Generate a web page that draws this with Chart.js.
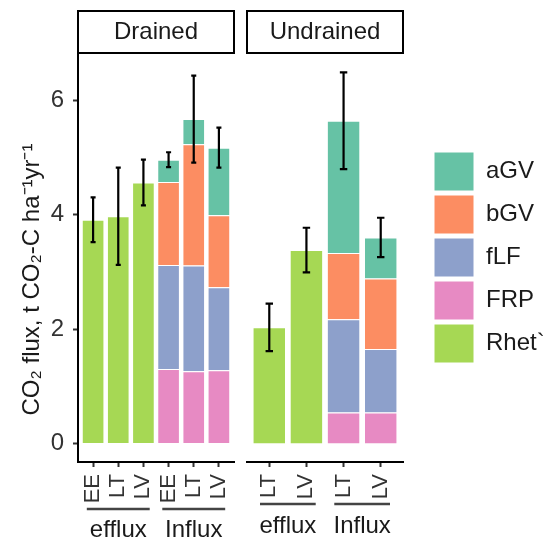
<!DOCTYPE html>
<html lang="en">
<head>
<meta charset="UTF-8">
<title>CO2 flux</title>
<script src="https://cdn.jsdelivr.net/npm/chart.js@4.4.0/dist/chart.umd.min.js"></script>
<style>
  body { margin: 0; background: #fff; }
  .panel { position: absolute; top: 0; height: 539px; }
  #p1 { left: 0; width: 236px; }
  #p2 { left: 236px; width: 311px; }
</style>
</head>
<body>
<div class="panel" id="p1"><canvas id="drained"></canvas></div>
<div class="panel" id="p2"><canvas id="undrained"></canvas></div>
<script>
const yTitle = 'CO₂ flux, t CO₂-C ha⁻¹yr⁻¹';
const yTicks = [0, 2, 4, 6];
const legendOrder = ['aGV', 'bGV', 'fLF', 'FRP', 'Rhet`'];

// Drained panel
const drainedLabels = ['EE', 'LT', 'LV', 'EE', 'LT', 'LV'];
const drainedGroups = ['efflux', 'efflux', 'efflux', 'Influx', 'Influx', 'Influx'];
const drainedRhet = [3.91, 3.97, 4.56, null, null, null];
const drainedFRP = [null, null, null, 1.30, 1.26, 1.28];
const drainedFLF = [null, null, null, 1.82, 1.85, 1.45];
const drainedBGV = [null, null, null, 1.45, 2.12, 1.26];
const drainedAGV = [null, null, null, 0.39, 0.44, 1.18];
const drainedSE = [0.39, 0.85, 0.40, 0.13, 0.76, 0.35];

// Undrained panel
const undrainedLabels = ['LT', 'LV', 'LT', 'LV'];
const undrainedGroups = ['efflux', 'efflux', 'Influx', 'Influx'];
const undrainedRhet = [2.03, 3.38, null, null];
const undrainedFRP = [null, null, 0.54, 0.54];
const undrainedFLF = [null, null, 1.63, 1.11];
const undrainedBGV = [null, null, 1.16, 1.235];
const undrainedAGV = [null, null, 2.31, 0.715];
const undrainedSE = [0.415, 0.39, 0.845, 0.345];

Chart.defaults.font.family = '"Liberation Sans", Arial, sans-serif';
Chart.defaults.color = '#1a1a1a';

const FONT = '"Liberation Sans", Arial, sans-serif';

// strip, nested x labels, error bars, y title
const panelDecor = {
  id: 'panelDecor',
  afterDatasetsDraw(chart, args, o) {
    const ctx = chart.ctx, xs = chart.scales.x, ys = chart.scales.y;
    const n = o.labels.length;
    ctx.save();
    ctx.strokeStyle = '#000';
    ctx.lineWidth = 2.2;
    for (let i = 0; i < n; i++) {
      let total = 0;
      chart.data.datasets.forEach(ds => {
        const v = ds.data[i].y;
        if (v != null) total += v;
      });
      const x = xs.getPixelForValue(i);
      const half = xs.getPixelForValue(i + 0.1) - x;
      const top = ys.getPixelForValue(total + o.se[i]);
      const bot = ys.getPixelForValue(total - o.se[i]);
      ctx.beginPath();
      ctx.moveTo(x, top); ctx.lineTo(x, bot);
      ctx.moveTo(x - half, top); ctx.lineTo(x + half, top);
      ctx.moveTo(x - half, bot); ctx.lineTo(x + half, bot);
      ctx.stroke();
    }
    ctx.restore();
  },
  afterDraw(chart, args, o) {
    const ctx = chart.ctx, a = chart.chartArea, xs = chart.scales.x;
    ctx.save();
    // strip
    ctx.strokeStyle = '#000';
    ctx.lineWidth = 2;
    ctx.strokeRect(a.left, 11, a.right - a.left, 42);
    ctx.fillStyle = '#1a1a1a';
    ctx.font = '24px ' + FONT;
    ctx.textAlign = 'center';
    ctx.textBaseline = 'middle';
    ctx.fillText(o.strip, (a.left + a.right) / 2, 32);

    // nested group labels
    const groups = [];
    o.groups.forEach((g, i) => {
      const last = groups[groups.length - 1];
      if (last && last.name === g) last.end = i;
      else groups.push({name: g, start: i, end: i});
    });
    ctx.textBaseline = 'alphabetic';
    groups.forEach(g => {
      const x1 = xs.getPixelForValue(g.start - 0.25);
      const x2 = xs.getPixelForValue(g.end + 0.25);
      ctx.strokeStyle = '#444';
      ctx.lineWidth = 2.5;
      ctx.beginPath();
      ctx.moveTo(x1, a.bottom + o.lineOffset);
      ctx.lineTo(x2, a.bottom + o.lineOffset);
      ctx.stroke();
      ctx.fillStyle = '#1a1a1a';
      ctx.fillText(g.name, (x1 + x2) / 2, a.bottom + o.textOffset);
    });

    // y axis title
    if (o.yTitle) {
      ctx.translate(32, (a.top + a.bottom) / 2 + 22);
      ctx.rotate(-Math.PI / 2);
      ctx.textBaseline = 'middle';
      ctx.fillText(o.yTitle, 0, 0);
    }
    ctx.restore();
  }
};

function toPoints(arr) {
  return arr.map((v, i) => ({x: i, y: v}));
}

function makeChart(id, strip, labels, groups, rhet, frp, flf, bgv, agv, se, first) {
  const datasets = [
    {label: 'FRP', data: toPoints(frp), backgroundColor: '#E78AC3'},
    {label: 'fLF', data: toPoints(flf), backgroundColor: '#8DA0CB'},
    {label: 'bGV', data: toPoints(bgv), backgroundColor: '#FC8D62'},
    {label: 'aGV', data: toPoints(agv), backgroundColor: '#66C2A5'},
    {label: 'Rhet`', data: toPoints(rhet), backgroundColor: '#A6D854'}
  ];
  datasets.forEach(d => {
    d.borderColor = '#fff';
    d.borderWidth = 1;
    d.categoryPercentage = 0.9;
    d.barPercentage = 1;
  });

  const scales = {
    x: {
      type: 'linear',
      offset: false,
      stacked: true,
      min: -0.6,
      max: labels.length - 0.4,
      afterBuildTicks: s => { s.ticks = labels.map((l, i) => ({value: i})); },
      afterFit: s => { s.height = 77; s.paddingLeft = 0; s.paddingRight = 0; },
      grid: {display: true, offset: false, drawOnChartArea: false, drawTicks: true, tickLength: 5, tickWidth: 2, tickColor: '#333'},
      border: {display: true, color: '#000', width: 2},
      ticks: {
        autoSkip: false, minRotation: 90, maxRotation: 90, padding: 7,
        color: '#333', font: {size: 22},
        callback: v => labels[v]
      }
    },
    y: {
      display: first,
      stacked: true,
      min: -0.325,
      max: 6.825,
      afterBuildTicks: s => { s.ticks = yTicks.map(v => ({value: v})); },
      afterFit: s => {
        if (first) s.width = 78;
        s.paddingTop = 0; s.paddingBottom = 0;
      },
      grid: {display: true, drawOnChartArea: false, drawTicks: true, tickLength: 5, tickWidth: 2, tickColor: '#333'},
      border: {display: true, color: '#000', width: 2},
      ticks: {color: '#333', font: {size: 24}, padding: 9}
    }
  };
  if (!first) {
    scales.gap = {
      type: 'linear', position: 'right', display: true,
      grid: {display: false}, border: {display: false}, ticks: {display: false},
      afterFit: s => { s.width = 27; s.paddingTop = 0; s.paddingBottom = 0; }
    };
  }

  return new Chart(document.getElementById(id), {
    type: 'bar',
    data: {datasets},
    plugins: [panelDecor],
    options: {
      responsive: true,
      maintainAspectRatio: false,
      animation: false,
      events: [],
      layout: {padding: first ? {top: 53, right: 2, left: 0, bottom: 0} : {top: 53, right: 0, left: 11, bottom: 0}},
      scales,
      plugins: {
        tooltip: {enabled: false},
        legend: {
          display: !first,
          position: 'right',
          fullSize: false,
          maxWidth: 117,
          labels: {
            boxWidth: 40, boxHeight: 39, padding: 4, color: '#1a1a1a', font: {size: 24},
            sort: (a, b) => legendOrder.indexOf(a.text) - legendOrder.indexOf(b.text)
          }
        },
        panelDecor: {
          strip, labels, groups, se,
          lineOffset: first ? 47 : 42,
          textOffset: first ? 75 : 71,
          yTitle: first ? yTitle : null
        }
      }
    }
  });
}

makeChart('drained', 'Drained', drainedLabels, drainedGroups,
  drainedRhet, drainedFRP, drainedFLF, drainedBGV, drainedAGV, drainedSE, true);
makeChart('undrained', 'Undrained', undrainedLabels, undrainedGroups,
  undrainedRhet, undrainedFRP, undrainedFLF, undrainedBGV, undrainedAGV, undrainedSE, false);
</script>
</body>
</html>
